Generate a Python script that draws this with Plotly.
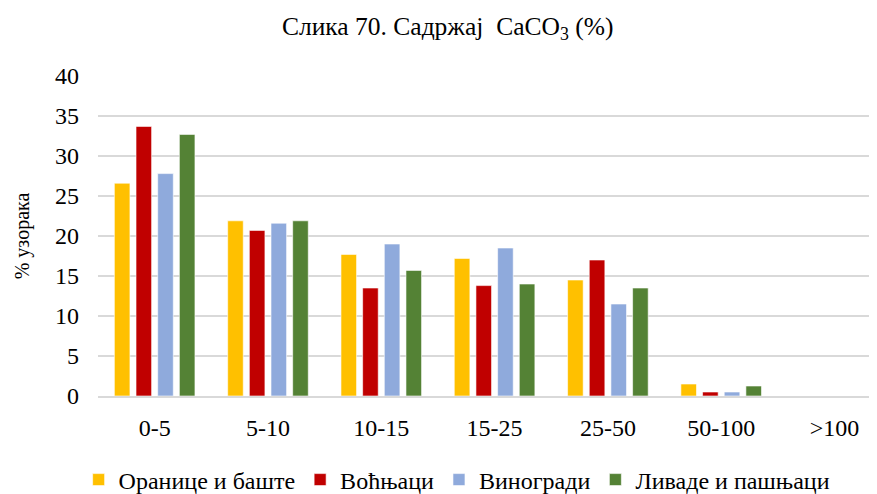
import plotly.graph_objects as go

categories = ["0-5", "5-10", "10-15", "15-25", "25-50", "50-100", ">100"]
oranice = [26.6, 21.9, 17.7, 17.2, 14.5, 1.5, 0]
vocnjaci = [33.7, 20.7, 13.5, 13.8, 17.0, 0.5, 0]
vinogradi = [27.8, 21.6, 19.0, 18.5, 11.5, 0.5, 0]
livade = [32.7, 21.9, 15.7, 14.0, 13.5, 1.25, 0]

series = [
    ("Оранице и баште", oranice, "#ffc000"),
    ("Воћњаци", vocnjaci, "#c00000"),
    ("Виногради", vinogradi, "#8faadc"),
    ("Ливаде и пашњаци", livade, "#548235"),
]

font = "Liberation Serif, Times New Roman, serif"

fig = go.Figure()
for name, vals, color in series:
    fig.add_trace(go.Bar(
        x=categories, y=vals, name=name,
        marker=dict(color=color, line=dict(color="white", width=0.6)),
    ))

# page body keeps its default 8px margin, so the figure is 8px smaller each way
fig.update_layout(
    width=869, height=486,
    margin=dict(l=90, r=0, t=68, b=98, autoexpand=False),
    paper_bgcolor="white", plot_bgcolor="white",
    font=dict(family=font, size=24, color="#000000"),
    title=dict(text="Слика 70. Садржај  CaCO<sub>3</sub> (%)", x=0.506, xanchor="center",
               y=0.963, yanchor="middle", font=dict(size=25.5)),
    barmode="group", bargap=0.235, bargroupgap=0.28,
    showlegend=True,
    legend=dict(orientation="h", x=0.461, xanchor="center", y=-0.2625, yanchor="middle",
                font=dict(size=24), itemwidth=30, traceorder="normal"),
)
fig.update_xaxes(range=[-0.5, 6.375], showgrid=False, showline=True, linecolor="#d9d9d9",
                 linewidth=1.5, ticks="", ticklabelstandoff=9, tickfont=dict(size=24),
                 automargin=False)
fig.update_yaxes(range=[0, 40], dtick=5, showgrid=True, gridcolor="#d9d9d9", gridwidth=1.5,
                 zeroline=False, showline=False, ticks="", ticklabelstandoff=18,
                 tickfont=dict(size=24), automargin=False,
                 title=dict(text="% узорака", standoff=20, font=dict(size=20)))

fig.write_html("out.html")
